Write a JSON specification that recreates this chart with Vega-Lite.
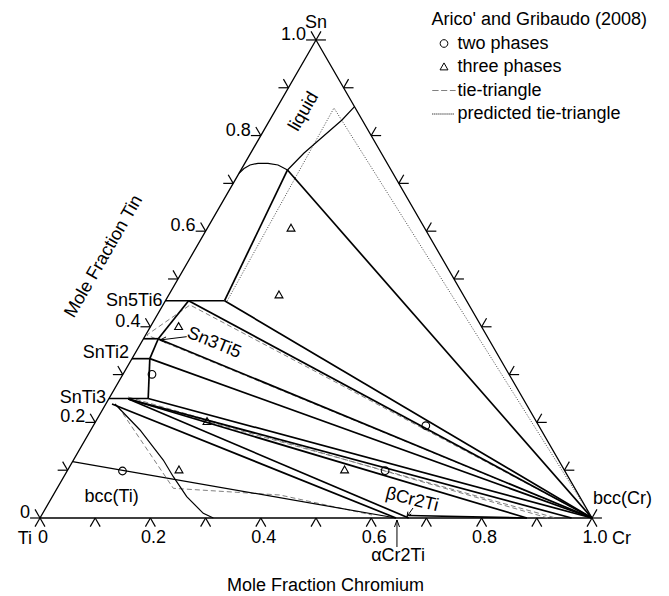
{
"$schema":"https://vega.github.io/schema/vega-lite/v6.json",
"width":669,"height":596,"autosize":"none","padding":0,"background":"white",
"config":{"view":{"stroke":null},"font":"Liberation Sans",
"text":{"font":"Liberation Sans","fontSize":18,"color":"black"},
"legend":{"orient":"none","legendX":431.5,"legendY":11,"padding":0,"titlePadding":2,"rowPadding":1.5,"labelOffset":1,"titleFontSize":18,"titleFontWeight":"normal","labelFontSize":18,"titleFont":"Liberation Sans","labelFont":"Liberation Sans","titleColor":"black","labelColor":"black","symbolSize":576,"symbolStrokeWidth":1,"titleLimit":400,"labelLimit":400}},
"data":{"values":[
{"k":"E","g":"tri","i":0,"cr":0,"sn":0},{"k":"E","g":"tri","i":1,"cr":1,"sn":0},{"k":"E","g":"tri","i":2,"cr":0,"sn":1},{"k":"E","g":"tri","i":3,"cr":0,"sn":0},
{"k":"N","g":"liq","i":0,"cr":0,"sn":0.721},{"k":"N","g":"liq","i":1,"cr":0.004,"sn":0.7312},{"k":"N","g":"liq","i":2,"cr":0.0112,"sn":0.7385},{"k":"N","g":"liq","i":3,"cr":0.0239,"sn":0.742},{"k":"N","g":"liq","i":4,"cr":0.042,"sn":0.742},{"k":"N","g":"liq","i":5,"cr":0.062,"sn":0.7385},{"k":"N","g":"liq","i":6,"cr":0.0844,"sn":0.728},
{"k":"N","g":"liqR","i":0,"cr":0.0844,"sn":0.728},{"k":"N","g":"liqR","i":1,"cr":0.0964,"sn":0.763},{"k":"N","g":"liqR","i":2,"cr":0.1308,"sn":0.8326},{"k":"N","g":"liqR","i":3,"cr":0.1395,"sn":0.8605},
{"k":"L","g":"j1","i":0,"cr":0.0844,"sn":0.728},{"k":"L","g":"j1","i":1,"cr":0.1071,"sn":0.4545},
{"k":"L","g":"j2","i":0,"cr":0.0844,"sn":0.728},{"k":"L","g":"j2","i":1,"cr":1,"sn":0},
{"k":"L","g":"s56","i":0,"cr":0,"sn":0.4545},{"k":"L","g":"s56","i":1,"cr":0.1071,"sn":0.4545},
{"k":"L","g":"s56c","i":0,"cr":0.1071,"sn":0.4545},{"k":"L","g":"s56c","i":1,"cr":1,"sn":0},
{"k":"L","g":"s56t","i":0,"cr":0.042,"sn":0.4545},{"k":"L","g":"s56t","i":1,"cr":1,"sn":0},
{"k":"L","g":"s56s35","i":0,"cr":0.042,"sn":0.4545},{"k":"L","g":"s56s35","i":1,"cr":0.0268,"sn":0.375},
{"k":"L","g":"s35","i":0,"cr":0,"sn":0.375},{"k":"L","g":"s35","i":1,"cr":0.0268,"sn":0.375},
{"k":"L","g":"s35c","i":0,"cr":0.0268,"sn":0.375},{"k":"L","g":"s35c","i":1,"cr":1,"sn":0},
{"k":"L","g":"s35s12","i":0,"cr":0.0268,"sn":0.375},{"k":"L","g":"s35s12","i":1,"cr":0.0323,"sn":0.3333},
{"k":"L","g":"s12","i":0,"cr":0,"sn":0.3333},{"k":"L","g":"s12","i":1,"cr":0.0323,"sn":0.3333},
{"k":"L","g":"s12v","i":0,"cr":0.0323,"sn":0.3333},{"k":"L","g":"s12v","i":1,"cr":0.071,"sn":0.25},
{"k":"L","g":"s13","i":0,"cr":0,"sn":0.25},{"k":"L","g":"s13","i":1,"cr":0.071,"sn":0.25},
{"k":"L","g":"s12c","i":0,"cr":0.0323,"sn":0.3333},{"k":"L","g":"s12c","i":1,"cr":1,"sn":0},
{"k":"L","g":"m1","i":0,"cr":0.071,"sn":0.25},{"k":"L","g":"m1","i":1,"cr":1,"sn":0},
{"k":"L","g":"m2","i":0,"cr":0.0356,"sn":0.249},{"k":"L","g":"m2","i":1,"cr":0.963,"sn":0},
{"k":"L","g":"m3","i":0,"cr":0.0356,"sn":0.249},{"k":"L","g":"m3","i":1,"cr":0.882,"sn":0},
{"k":"L","g":"l1","i":0,"cr":0.0112,"sn":0.2385},{"k":"L","g":"l1","i":1,"cr":0.645,"sn":0},
{"k":"L","g":"l2","i":0,"cr":0.0356,"sn":0.249},{"k":"L","g":"l2","i":1,"cr":0.668,"sn":0},
{"k":"L","g":"bb","i":0,"cr":0.6659,"sn":0.0052},{"k":"L","g":"bb","i":1,"cr":0.882,"sn":0},
{"k":"N","g":"bcc","i":0,"cr":0.0166,"sn":0.2385},{"k":"N","g":"bcc","i":1,"cr":0.0891,"sn":0.1841},{"k":"N","g":"bcc","i":2,"cr":0.1627,"sn":0.1213},{"k":"N","g":"bcc","i":3,"cr":0.1983,"sn":0.0864},{"k":"N","g":"bcc","i":4,"cr":0.2435,"sn":0.0446},{"k":"N","g":"bcc","i":5,"cr":0.2909,"sn":0.0098},{"k":"N","g":"bcc","i":6,"cr":0.314,"sn":0},
{"k":"N","g":"lft","i":0,"cr":0,"sn":0.118},{"k":"N","g":"lft","i":1,"cr":0.645,"sn":0},
{"k":"D","g":"d1","i":0,"cr":0.0254,"sn":0.2328},{"k":"D","g":"d1","i":1,"cr":0.2105,"sn":0.0621},{"k":"D","g":"d1","i":2,"cr":0.4107,"sn":0.0481},{"k":"D","g":"d1","i":3,"cr":0.5983,"sn":0.0063},
{"k":"D","g":"d2","i":0,"cr":1,"sn":0},{"k":"D","g":"d2","i":1,"cr":0.049,"sn":0.4456},{"k":"D","g":"d2","i":2,"cr":0.002,"sn":0.3828},{"k":"D","g":"d2","i":3,"cr":1,"sn":0},
{"k":"D","g":"d4","i":0,"cr":0.0329,"sn":0.2531},{"k":"D","g":"d4","i":1,"cr":0.9203,"sn":0},
{"k":"D","g":"d5","i":0,"cr":0.0461,"sn":0.2448},{"k":"D","g":"d5","i":1,"cr":0.9348,"sn":0},
{"k":"O","g":"o1","i":0,"cr":0.112,"sn":0.4545},{"k":"O","g":"o1","i":1,"cr":0.1037,"sn":0.8577},{"k":"O","g":"o1","i":2,"cr":1,"sn":0},
{"k":"P","s":"two phases","cr":0.6024,"sn":0.1931},{"k":"P","s":"two phases","cr":0.5757,"sn":0.099},{"k":"P","s":"two phases","cr":0.0526,"sn":0.3006},{"k":"P","s":"two phases","cr":0.1003,"sn":0.0983},
{"k":"P","s":"three phases","cr":0.1517,"sn":0.6061},{"k":"P","s":"three phases","cr":0.1997,"sn":0.4665},{"k":"P","s":"three phases","cr":0.051,"sn":0.4002},{"k":"P","s":"three phases","cr":0.2018,"sn":0.2015},{"k":"P","s":"three phases","cr":0.2016,"sn":0.1004},{"k":"P","s":"three phases","cr":0.5016,"sn":0.1004},
{"k":"T","cr":0,"sn":0,"cr2":0,"sn2":-0.018},{"k":"T","cr":0,"sn":0,"cr2":0.018,"sn2":-0.018},
{"k":"T","cr":0.1,"sn":0,"cr2":0.1,"sn2":-0.018},{"k":"T","cr":0.1,"sn":0,"cr2":0.118,"sn2":-0.018},
{"k":"T","cr":0.2,"sn":0,"cr2":0.2,"sn2":-0.018},{"k":"T","cr":0.2,"sn":0,"cr2":0.218,"sn2":-0.018},
{"k":"T","cr":0.3,"sn":0,"cr2":0.3,"sn2":-0.018},{"k":"T","cr":0.3,"sn":0,"cr2":0.318,"sn2":-0.018},
{"k":"T","cr":0.4,"sn":0,"cr2":0.4,"sn2":-0.018},{"k":"T","cr":0.4,"sn":0,"cr2":0.418,"sn2":-0.018},
{"k":"T","cr":0.5,"sn":0,"cr2":0.5,"sn2":-0.018},{"k":"T","cr":0.5,"sn":0,"cr2":0.518,"sn2":-0.018},
{"k":"T","cr":0.6,"sn":0,"cr2":0.6,"sn2":-0.018},{"k":"T","cr":0.6,"sn":0,"cr2":0.618,"sn2":-0.018},
{"k":"T","cr":0.7,"sn":0,"cr2":0.7,"sn2":-0.018},{"k":"T","cr":0.7,"sn":0,"cr2":0.718,"sn2":-0.018},
{"k":"T","cr":0.8,"sn":0,"cr2":0.8,"sn2":-0.018},{"k":"T","cr":0.8,"sn":0,"cr2":0.818,"sn2":-0.018},
{"k":"T","cr":0.9,"sn":0,"cr2":0.9,"sn2":-0.018},{"k":"T","cr":0.9,"sn":0,"cr2":0.918,"sn2":-0.018},
{"k":"T","cr":1,"sn":0,"cr2":1,"sn2":-0.018},{"k":"T","cr":1,"sn":0,"cr2":1.018,"sn2":-0.018},
{"k":"T","cr":0,"sn":0,"cr2":-0.018,"sn2":0.018},{"k":"T","cr":0,"sn":0,"cr2":-0.018,"sn2":0},
{"k":"T","cr":0,"sn":0.1,"cr2":-0.018,"sn2":0.118},{"k":"T","cr":0,"sn":0.1,"cr2":-0.018,"sn2":0.1},
{"k":"T","cr":0,"sn":0.2,"cr2":-0.018,"sn2":0.218},{"k":"T","cr":0,"sn":0.2,"cr2":-0.018,"sn2":0.2},
{"k":"T","cr":0,"sn":0.3,"cr2":-0.018,"sn2":0.318},{"k":"T","cr":0,"sn":0.3,"cr2":-0.018,"sn2":0.3},
{"k":"T","cr":0,"sn":0.4,"cr2":-0.018,"sn2":0.418},{"k":"T","cr":0,"sn":0.4,"cr2":-0.018,"sn2":0.4},
{"k":"T","cr":0,"sn":0.5,"cr2":-0.018,"sn2":0.518},{"k":"T","cr":0,"sn":0.5,"cr2":-0.018,"sn2":0.5},
{"k":"T","cr":0,"sn":0.6,"cr2":-0.018,"sn2":0.618},{"k":"T","cr":0,"sn":0.6,"cr2":-0.018,"sn2":0.6},
{"k":"T","cr":0,"sn":0.7,"cr2":-0.018,"sn2":0.718},{"k":"T","cr":0,"sn":0.7,"cr2":-0.018,"sn2":0.7},
{"k":"T","cr":0,"sn":0.8,"cr2":-0.018,"sn2":0.818},{"k":"T","cr":0,"sn":0.8,"cr2":-0.018,"sn2":0.8},
{"k":"T","cr":0,"sn":0.9,"cr2":-0.018,"sn2":0.918},{"k":"T","cr":0,"sn":0.9,"cr2":-0.018,"sn2":0.9},
{"k":"T","cr":0,"sn":1,"cr2":-0.018,"sn2":1.018},{"k":"T","cr":0,"sn":1,"cr2":-0.018,"sn2":1},
{"k":"T","cr":1,"sn":0,"cr2":1,"sn2":0.018},{"k":"T","cr":1,"sn":0,"cr2":1.018,"sn2":0},
{"k":"T","cr":0.9,"sn":0.1,"cr2":0.9,"sn2":0.118},{"k":"T","cr":0.9,"sn":0.1,"cr2":0.918,"sn2":0.1},
{"k":"T","cr":0.8,"sn":0.2,"cr2":0.8,"sn2":0.218},{"k":"T","cr":0.8,"sn":0.2,"cr2":0.818,"sn2":0.2},
{"k":"T","cr":0.7,"sn":0.3,"cr2":0.7,"sn2":0.318},{"k":"T","cr":0.7,"sn":0.3,"cr2":0.718,"sn2":0.3},
{"k":"T","cr":0.6,"sn":0.4,"cr2":0.6,"sn2":0.418},{"k":"T","cr":0.6,"sn":0.4,"cr2":0.618,"sn2":0.4},
{"k":"T","cr":0.5,"sn":0.5,"cr2":0.5,"sn2":0.518},{"k":"T","cr":0.5,"sn":0.5,"cr2":0.518,"sn2":0.5},
{"k":"T","cr":0.4,"sn":0.6,"cr2":0.4,"sn2":0.618},{"k":"T","cr":0.4,"sn":0.6,"cr2":0.418,"sn2":0.6},
{"k":"T","cr":0.3,"sn":0.7,"cr2":0.3,"sn2":0.718},{"k":"T","cr":0.3,"sn":0.7,"cr2":0.318,"sn2":0.7},
{"k":"T","cr":0.2,"sn":0.8,"cr2":0.2,"sn2":0.818},{"k":"T","cr":0.2,"sn":0.8,"cr2":0.218,"sn2":0.8},
{"k":"T","cr":0.1,"sn":0.9,"cr2":0.1,"sn2":0.918},{"k":"T","cr":0.1,"sn":0.9,"cr2":0.118,"sn2":0.9},
{"k":"T","cr":0,"sn":1,"cr2":0,"sn2":1.018},{"k":"T","cr":0,"sn":1,"cr2":0.018,"sn2":1},
{"k":"A","cr":0.0761,"sn":0.3793,"cr2":0.0312,"sn2":0.3724},{"k":"A","cr":0.0312,"sn":0.3724,"cr2":0.039,"sn2":0.3787},{"k":"A","cr":0.0312,"sn":0.3724,"cr2":0.0453,"sn2":0.3661},
{"k":"A","cr":0.6653,"sn":0.0209,"cr2":0.6633,"sn2":0.0031},{"k":"A","cr":0.6633,"sn":0.0031,"cr2":0.6598,"sn2":0.0134},{"k":"A","cr":0.6633,"sn":0.0031,"cr2":0.6684,"sn2":0.0084},
{"k":"A","cr":0.677,"sn":-0.0607,"cr2":0.6488,"sn2":-0.0042},{"k":"A","cr":0.6488,"sn":-0.0042,"cr2":0.6516,"sn2":-0.0188},{"k":"A","cr":0.6488,"sn":-0.0042,"cr2":0.6607,"sn2":-0.0188},
{"k":"tb","t":"0","cr":0,"sn":0},{"k":"tb","t":"0.2","cr":0.2,"sn":0},{"k":"tb","t":"0.4","cr":0.4,"sn":0},{"k":"tb","t":"0.6","cr":0.6,"sn":0},{"k":"tb","t":"0.8","cr":0.8,"sn":0},{"k":"tb","t":"1.0","cr":1,"sn":0},
{"k":"tl","t":"0","cr":0,"sn":0},{"k":"tl","t":"0.2","cr":0,"sn":0.2},{"k":"tl","t":"0.4","cr":0,"sn":0.4},{"k":"tl","t":"0.6","cr":0,"sn":0.6},{"k":"tl","t":"0.8","cr":0,"sn":0.8},{"k":"tl","t":"1.0","cr":0,"sn":1},
{"k":"vTi","t":"Ti","cr":0,"sn":0},{"k":"vCr","t":"Cr","cr":1,"sn":0},{"k":"vSn","t":"Sn","cr":0,"sn":1},
{"k":"cmp","t":"Sn5Ti6","cr":0,"sn":0.4545},{"k":"cmp","t":"SnTi3","cr":0,"sn":0.25},{"k":"cmp2","t":"SnTi2","cr":0,"sn":0.3333},
{"k":"liq","t":"liquid","cr":0.0533,"sn":0.85},
{"k":"s35","t":"Sn3Ti5","cr":0.1322,"sn":0.3661},
{"k":"bti","t":"bcc(Ti)","cr":0.1079,"sn":0.0439},
{"k":"bcr","t":"bcc(Cr)","cr":1,"sn":0},
{"k":"beta","t":"βCr2Ti","cr":0.655,"sn":0.0377},
{"k":"alpha","t":"αCr2Ti","cr":0.645,"sn":0}
]},
"transform":[
{"calculate":"datum.cr + datum.sn/2","as":"X"},
{"calculate":"datum.sn*0.8660254","as":"Y"},
{"calculate":"datum.cr2 + datum.sn2/2","as":"X2"},
{"calculate":"datum.sn2*0.8660254","as":"Y2"}
],
"encoding":{
"x":{"field":"X","type":"quantitative","scale":{"domain":[-0.07246,1.13949],"nice":false,"zero":false},
"axis":{"title":"Mole Fraction Chromium","labels":false,"ticks":false,"domain":false,"grid":false,"titleX":325,"titleY":-11,"titleBaseline":"middle","titleAlign":"center","titleFontSize":18,"titleFontWeight":"normal","titleFont":"Liberation Sans","titleColor":"black"}},
"y":{"field":"Y","type":"quantitative","scale":{"domain":[-0.1413,0.93841],"nice":false,"zero":false},
"axis":{"title":"Mole Fraction Tin","labels":false,"ticks":false,"domain":false,"grid":false,"titleX":103.5,"titleY":256,"titleAngle":300,"titleBaseline":"middle","titleAlign":"center","titleFontSize":18,"titleFontWeight":"normal","titleFont":"Liberation Sans","titleColor":"black"}}
},
"layer":[
{"transform":[{"filter":"datum.k=='E'"}],"mark":{"type":"line","stroke":"black","strokeWidth":1.3},"encoding":{"detail":{"field":"g","type":"nominal"},"order":{"field":"i","type":"quantitative"}}},
{"transform":[{"filter":"datum.k=='D'"}],"mark":{"type":"line","stroke":"#808080","strokeWidth":1,"strokeDash":[5,3]},"encoding":{"detail":{"field":"g","type":"nominal"},"order":{"field":"i","type":"quantitative"}}},
{"transform":[{"filter":"datum.k=='O'"}],"mark":{"type":"line","stroke":"#333","strokeWidth":0.9,"strokeDash":[1,1.6]},"encoding":{"detail":{"field":"g","type":"nominal"},"order":{"field":"i","type":"quantitative"}}},
{"transform":[{"filter":"datum.k=='N'"}],"mark":{"type":"line","stroke":"black","strokeWidth":1.2},"encoding":{"detail":{"field":"g","type":"nominal"},"order":{"field":"i","type":"quantitative"}}},
{"transform":[{"filter":"datum.k=='L'"}],"mark":{"type":"line","stroke":"black","strokeWidth":1.7},"encoding":{"detail":{"field":"g","type":"nominal"},"order":{"field":"i","type":"quantitative"}}},
{"transform":[{"filter":"datum.k=='T'"}],"mark":{"type":"rule","stroke":"black","strokeWidth":1.2},"encoding":{"x2":{"field":"X2"},"y2":{"field":"Y2"}}},
{"transform":[{"filter":"datum.k=='A'"}],"mark":{"type":"rule","stroke":"black","strokeWidth":1},"encoding":{"x2":{"field":"X2"},"y2":{"field":"Y2"}}},
{"transform":[{"filter":"datum.k=='P'"}],"mark":{"type":"point","filled":false,"size":576,"strokeWidth":1.1,"opacity":1},
"encoding":{
"shape":{"field":"s","type":"nominal","scale":{"domain":["two phases","three phases","tie-triangle","predicted tie-triangle"],"range":["M0.32,0A0.32,0.32,0,1,1,-0.32,0A0.32,0.32,0,1,1,0.32,0Z","M0,-0.34L0.33,0.24L-0.33,0.24Z","M-0.98,0H-0.45M-0.24,0H0.27M0.49,0H0.97","M-0.98,0h0.09M-0.81,0h0.09M-0.64,0h0.09M-0.47,0h0.09M-0.3,0h0.09M-0.13,0h0.09M0.04,0h0.09M0.21,0h0.09M0.38,0h0.09M0.55,0h0.09M0.72,0h0.09"]},"legend":{"title":"Arico' and Gribaudo (2008)"}},
"stroke":{"field":"s","type":"nominal","scale":{"domain":["two phases","three phases","tie-triangle","predicted tie-triangle"],"range":["black","black","#808080","black"]},"legend":{"title":"Arico' and Gribaudo (2008)"}}
}},
{"transform":[{"filter":"datum.k=='tb'"}],"mark":{"type":"text","align":"center","baseline":"alphabetic","dx":3,"dy":25},"encoding":{"text":{"field":"t"}}},
{"transform":[{"filter":"datum.k=='tl'"}],"mark":{"type":"text","align":"right","baseline":"alphabetic","dx":-10,"dy":0},"encoding":{"text":{"field":"t"}}},
{"transform":[{"filter":"datum.k=='vTi'"}],"mark":{"type":"text","align":"right","baseline":"alphabetic","dx":-8,"dy":26},"encoding":{"text":{"field":"t"}}},
{"transform":[{"filter":"datum.k=='vCr'"}],"mark":{"type":"text","align":"left","baseline":"alphabetic","dx":20,"dy":26},"encoding":{"text":{"field":"t"}}},
{"transform":[{"filter":"datum.k=='vSn'"}],"mark":{"type":"text","align":"center","baseline":"alphabetic","dx":0,"dy":-12},"encoding":{"text":{"field":"t"}}},
{"transform":[{"filter":"datum.k=='cmp'"}],"mark":{"type":"text","align":"right","baseline":"middle","dx":-3},"encoding":{"text":{"field":"t"}}},
{"transform":[{"filter":"datum.k=='cmp2'"}],"mark":{"type":"text","align":"right","baseline":"middle","dx":-3,"dy":-6},"encoding":{"text":{"field":"t"}}},
{"transform":[{"filter":"datum.k=='liq'"}],"mark":{"type":"text","align":"center","baseline":"middle","angle":300},"encoding":{"text":{"field":"t"}}},
{"transform":[{"filter":"datum.k=='s35'"}],"mark":{"type":"text","align":"center","baseline":"middle","angle":22},"encoding":{"text":{"field":"t"}}},
{"transform":[{"filter":"datum.k=='bti'"}],"mark":{"type":"text","align":"center","baseline":"middle"},"encoding":{"text":{"field":"t"}}},
{"transform":[{"filter":"datum.k=='bcr'"}],"mark":{"type":"text","align":"left","baseline":"middle","dx":1,"dy":-19},"encoding":{"text":{"field":"t"}}},
{"transform":[{"filter":"datum.k=='beta'"}],"mark":{"type":"text","align":"center","baseline":"middle","angle":14},"encoding":{"text":{"field":"t"}}},
{"transform":[{"filter":"datum.k=='alpha'"}],"mark":{"type":"text","align":"center","baseline":"middle","dx":2,"dy":38},"encoding":{"text":{"field":"t"}}}
]
}
